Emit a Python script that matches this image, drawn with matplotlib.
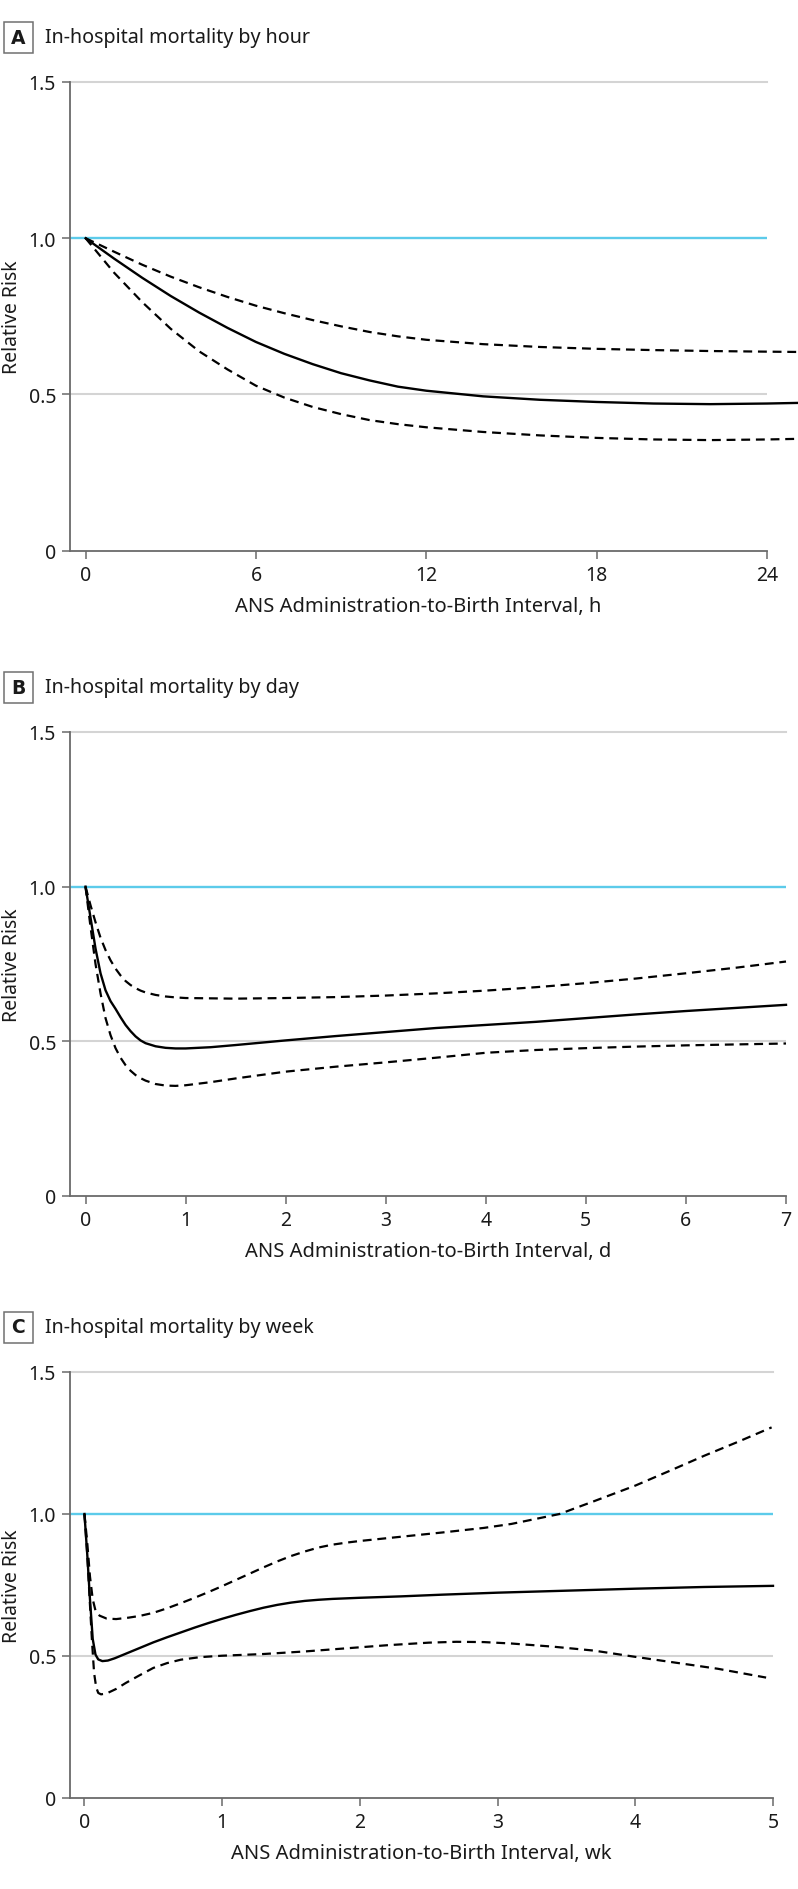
import matplotlib
matplotlib.use("Agg")
import matplotlib.pyplot as plt
from matplotlib.patches import Rectangle

# Panel A - by hour
hours = [0, 1, 2, 3, 4, 5, 6, 7, 8, 9, 10, 11, 12, 14, 16, 18, 20, 22, 24, 25.1]
rr_hour = [1.0, 0.935, 0.873, 0.815, 0.762, 0.713, 0.668, 0.63, 0.597, 0.568, 0.545, 0.525,
           0.512, 0.494, 0.483, 0.476, 0.471, 0.469, 0.471, 0.473]
hi_hour = [1.0, 0.957, 0.915, 0.877, 0.843, 0.812, 0.784, 0.76, 0.738, 0.718, 0.70, 0.686,
           0.675, 0.661, 0.652, 0.646, 0.642, 0.639, 0.637, 0.636]
lo_hour = [1.0, 0.89, 0.795, 0.71, 0.638, 0.58, 0.528, 0.49, 0.46, 0.437, 0.418, 0.405,
           0.395, 0.38, 0.369, 0.361, 0.356, 0.354, 0.356, 0.358]

# Panel B - by day
days = [0, 0.05, 0.1, 0.15, 0.2, 0.25, 0.3, 0.35, 0.4, 0.45, 0.5, 0.55, 0.6, 0.7, 0.8, 0.9,
        1.0, 1.25, 1.5, 2, 2.5, 3, 3.5, 4, 4.5, 5, 5.5, 6, 6.5, 7]
rr_day = [1.0, 0.9, 0.8, 0.72, 0.665, 0.63, 0.605, 0.578, 0.553, 0.533, 0.516, 0.503, 0.494,
          0.484, 0.479, 0.477, 0.477, 0.481, 0.488, 0.503, 0.517, 0.53, 0.543, 0.553, 0.563,
          0.575, 0.587, 0.598, 0.608, 0.618]
hi_day = [1.0, 0.94, 0.885, 0.835, 0.795, 0.762, 0.735, 0.713, 0.695, 0.682, 0.672, 0.664,
          0.658, 0.65, 0.645, 0.642, 0.64, 0.639, 0.638, 0.64, 0.643, 0.648, 0.655, 0.664,
          0.675, 0.688, 0.703, 0.72, 0.738, 0.758]
lo_day = [1.0, 0.87, 0.75, 0.655, 0.575, 0.52, 0.478, 0.447, 0.423, 0.405, 0.391, 0.381,
          0.373, 0.362, 0.357, 0.356, 0.358, 0.368, 0.38, 0.402, 0.418, 0.432, 0.447, 0.463,
          0.472, 0.478, 0.483, 0.487, 0.49, 0.493]

# Panel C - by week
wk_mid = [0, 0.02, 0.04, 0.06, 0.08, 0.1, 0.13, 0.17, 0.22, 0.3, 0.4, 0.5, 0.6, 0.7, 0.8,
          0.9, 1.0, 1.1, 1.2, 1.3, 1.4, 1.5, 1.6, 1.7, 1.8, 2.0, 2.3, 2.6, 3.0, 3.5, 4.0,
          4.5, 5.0]
rr_wk = [1.0, 0.86, 0.70, 0.56, 0.505, 0.488, 0.482, 0.484, 0.492, 0.508, 0.528, 0.548,
         0.566, 0.583, 0.60, 0.616, 0.631, 0.645, 0.658, 0.67, 0.68, 0.688, 0.694, 0.698,
         0.701, 0.705, 0.71, 0.716, 0.723, 0.73, 0.737, 0.743, 0.747]
wk_hi = [0, 0.02, 0.04, 0.06, 0.08, 0.11, 0.16, 0.23, 0.32, 0.4, 0.5, 0.6, 0.7, 0.8, 0.9,
         1.0, 1.1, 1.2, 1.3, 1.4, 1.5, 1.6, 1.7, 1.8, 1.9, 2.0, 2.3, 2.6, 2.9, 3.1, 3.3,
         3.45, 3.7, 4.0, 4.25, 4.5, 4.75, 4.99]
hi_wk = [1.0, 0.90, 0.78, 0.70, 0.66, 0.642, 0.632, 0.63, 0.635, 0.641, 0.652, 0.668,
         0.686, 0.705, 0.725, 0.746, 0.768, 0.79, 0.812, 0.833, 0.852, 0.868, 0.882, 0.892,
         0.899, 0.905, 0.92, 0.935, 0.951, 0.965, 0.985, 1.0, 1.045, 1.10, 1.152, 1.205,
         1.255, 1.305]
wk_lo = [0, 0.02, 0.04, 0.055, 0.07, 0.085, 0.1, 0.12, 0.16, 0.23, 0.3, 0.4, 0.5, 0.6, 0.7,
         0.84, 1.0, 1.3, 1.6, 1.9, 2.2, 2.5, 2.7, 2.9, 3.1, 3.4, 3.7, 4.0, 4.3, 4.6, 4.95]
lo_wk = [1.0, 0.86, 0.68, 0.55, 0.44, 0.39, 0.37, 0.365, 0.368, 0.384, 0.405, 0.432, 0.458,
         0.475, 0.487, 0.496, 0.501, 0.507, 0.516, 0.527, 0.538, 0.547, 0.55, 0.549, 0.544,
         0.533, 0.519, 0.497, 0.476, 0.455, 0.424]

W, H = 798, 1890
fig = plt.figure(figsize=(W / 100, H / 100), dpi=100)
fig.patch.set_facecolor('white')

FONT = ['Noto Sans', 'DejaVu Sans']
TXT = '#1a1a1a'
AXIS_GREY = '#6a6a6a'
DASH = (0, (4, 2.6))


def add_ax(left, top, right, bottom):
    return fig.add_axes([left / W, 1 - bottom / H, (right - left) / W, (bottom - top) / H])


def panel_title(letter, title, yc):
    # boxed panel letter
    fig.patches.append(Rectangle((4 / W, 1 - (yc + 15.5) / H), 29 / W, 31 / H,
                                 transform=fig.transFigure, fill=False,
                                 ec='#707070', lw=1.1))
    fig.text(18.5 / W, 1 - yc / H, letter, ha='center', va='center', fontsize=13.5,
             fontweight='bold', family='DejaVu Sans', color=TXT)
    fig.text(45 / W, 1 - yc / H, title, ha='left', va='center', fontsize=14.2,
             family=FONT, color=TXT)


def style(ax, xticks, xlabel, width_px):
    for s in ['top', 'right']:
        ax.spines[s].set_visible(False)
    for s in ['left', 'bottom']:
        ax.spines[s].set_color(AXIS_GREY)
        ax.spines[s].set_linewidth(1.3)
    ax.set_ylim(0, 1.5)
    ax.set_yticks([0, 0.5, 1.0, 1.5])
    ax.set_yticklabels(['0', '0.5', '1.0', '1.5'], family=FONT, fontsize=14, color=TXT)
    ax.set_xticks(xticks)
    ax.set_xticklabels([str(t) for t in xticks], family=FONT, fontsize=14, color=TXT)
    ax.tick_params(direction='out', length=6, width=1.1, color=AXIS_GREY, pad=4)
    ax.axhline(0.5, color='#d4d4d4', lw=1.5, zorder=1)
    ax.axhline(1.5, color='#d4d4d4', lw=1.5, zorder=1, clip_on=False)
    ax.axhline(1.0, color='#5ccbea', lw=1.7, zorder=1)
    ax.set_ylabel('Relative Risk', family=FONT, fontsize=14, color=TXT)
    ax.yaxis.set_label_coords((22 - 70) / width_px, 0.5)
    ax.set_xlabel(xlabel, family=FONT, fontsize=14.5, color=TXT, labelpad=8)


# A
panel_title('A', 'In-hospital mortality by hour', 38)
axA = add_ax(70, 83, 767, 551.7)
axA.set_xlim(-0.55, 24)
style(axA, [0, 6, 12, 18, 24], 'ANS Administration-to-Birth Interval, h', 697)
axA.plot(hours, rr_hour, color='black', lw=1.7, clip_on=False, zorder=3)
axA.plot(hours, hi_hour, color='black', lw=1.6, ls=DASH, clip_on=False, zorder=3)
axA.plot(hours, lo_hour, color='black', lw=1.6, ls=DASH, clip_on=False, zorder=3)

# B
panel_title('B', 'In-hospital mortality by day', 688)
axB = add_ax(70, 733, 786, 1197)
axB.set_xlim(-0.155, 7)
style(axB, [0, 1, 2, 3, 4, 5, 6, 7], 'ANS Administration-to-Birth Interval, d', 716)
axB.plot(days, rr_day, color='black', lw=1.7, clip_on=False, zorder=3)
axB.plot(days, hi_day, color='black', lw=1.6, ls=DASH, clip_on=False, zorder=3)
axB.plot(days, lo_day, color='black', lw=1.6, ls=DASH, clip_on=False, zorder=3)

# C
panel_title('C', 'In-hospital mortality by week', 1328)
axC = add_ax(70, 1373, 773, 1799)
axC.set_xlim(-0.105, 5)
style(axC, [0, 1, 2, 3, 4, 5], 'ANS Administration-to-Birth Interval, wk', 703)
axC.plot(wk_mid, rr_wk, color='black', lw=1.7, clip_on=False, zorder=3)
axC.plot(wk_hi, hi_wk, color='black', lw=1.6, ls=DASH, clip_on=False, zorder=3)
axC.plot(wk_lo, lo_wk, color='black', lw=1.6, ls=DASH, clip_on=False, zorder=3)

fig.savefig('out.png', dpi=100, facecolor='white')
